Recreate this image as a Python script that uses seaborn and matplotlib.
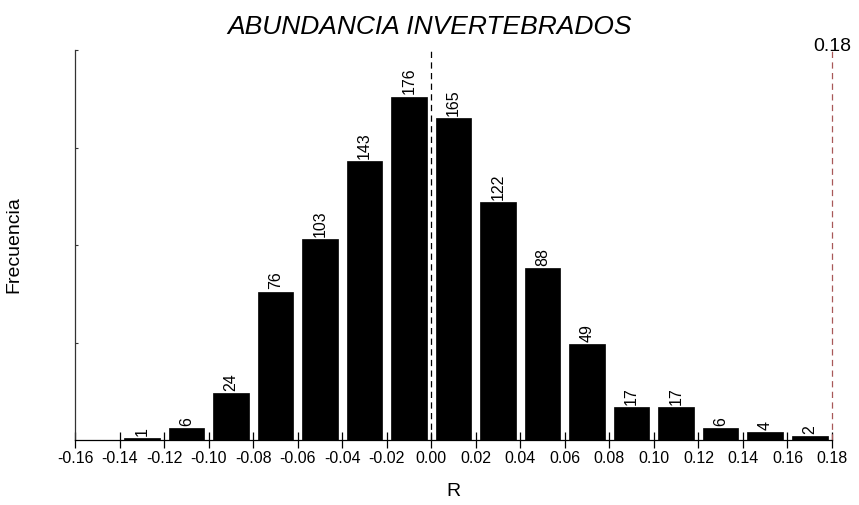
import matplotlib
matplotlib.use("Agg")
import matplotlib.pyplot as plt
import seaborn as sns
import numpy as np
import pandas as pd

bin_left = [-0.14, -0.12, -0.10, -0.08, -0.06, -0.04, -0.02, 0.00,
            0.02, 0.04, 0.06, 0.08, 0.10, 0.12, 0.14, 0.16]
counts = [1, 6, 24, 76, 103, 143, 176, 165, 122, 88, 49, 17, 17, 6, 4, 2]
xticks = [-0.16, -0.14, -0.12, -0.10, -0.08, -0.06, -0.04, -0.02, 0.00,
          0.02, 0.04, 0.06, 0.08, 0.10, 0.12, 0.14, 0.16, 0.18]
observed = 0.18
title = "ABUNDANCIA INVERTEBRADOS"

sns.set_style("white")
plt.rcParams['font.family'] = ['Liberation Sans', 'DejaVu Sans']
plt.rcParams['text.color'] = 'black'
plt.rcParams['axes.labelcolor'] = 'black'
plt.rcParams['xtick.color'] = 'black'
plt.rcParams['ytick.color'] = 'black'

df = pd.DataFrame({"R": [b + 0.01 for b in bin_left], "n": counts})

fig = plt.figure(figsize=(8.59, 5.05), dpi=100)
ax = fig.add_axes([75/859, 65/505, 757/859, 390/505])

sns.barplot(data=df, x="R", y="n", native_scale=True, width=0.8,
            color="black", edgecolor="black", linewidth=0.5, saturation=1, ax=ax)

ax.set_xlim(-0.16, 0.18)
ax.set_ylim(0, 200)
for x, n in zip(df["R"], df["n"]):
    ax.text(x, n + 1.2, str(n), rotation=90, ha="center", va="bottom",
            fontsize=11.5, color="black")

ax.axvline(0, ymin=0, ymax=1, color="black", ls=(0, (5, 3.5)), lw=0.9, clip_on=False)
ax.axvline(observed, ymin=0, ymax=1, color="#a85858", ls=(0, (5, 3.5)), lw=0.9, clip_on=False)
ax.text(observed, 197.5, "0.18", ha="center", va="bottom", fontsize=14)

ax.set_xticks(xticks)
ax.set_xticklabels([f"{t:.2f}" for t in xticks], fontsize=11.5)
ax.set_yticks([50, 100, 150, 200])
ax.set_yticklabels([])
ax.tick_params(axis="x", bottom=True, direction="inout", length=12, width=0.9,
               color="black", pad=2)
ax.tick_params(axis="y", left=True, direction="in", length=2, width=0.8, color="#333333")

for s in ["top", "right"]:
    ax.spines[s].set_visible(False)
ax.spines["left"].set_color("#333333")
ax.spines["bottom"].set_color("black")
ax.spines["left"].set_linewidth(0.9)
ax.spines["bottom"].set_linewidth(0.9)

ax.set_xlabel("R", fontsize=14, labelpad=12)
ax.set_ylabel("Frecuencia", fontsize=14, labelpad=0)
ax.yaxis.set_label_coords(-(75 - 22) / 757, 0.5)
fig.text(430/859, 1 - 27/505, title, ha="center", va="center", fontsize=19, style="italic")

fig.savefig("out.png", dpi=100)
